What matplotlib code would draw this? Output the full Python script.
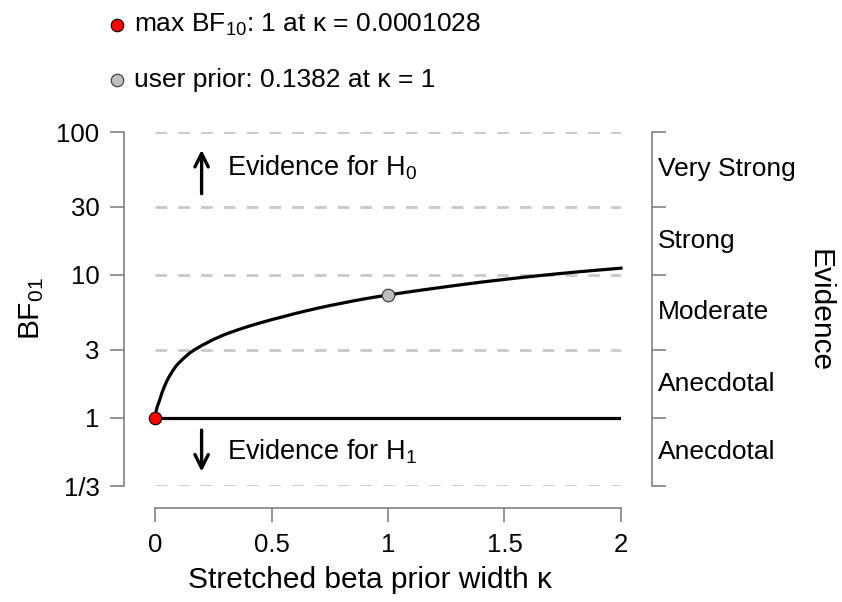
import matplotlib.pyplot as plt
from matplotlib.lines import Line2D

plt.rcParams['font.family'] = ['Liberation Sans', 'DejaVu Sans']
plt.rcParams['mathtext.default'] = 'regular'

# BF01 robustness curve
kappa = [0, 0.0025, 0.005, 0.01, 0.02, 0.03, 0.04, 0.05, 0.06, 0.075, 0.09, 0.1,
         0.125, 0.15, 0.175, 0.2, 0.25, 0.3, 0.35, 0.4, 0.45, 0.5, 0.55, 0.6,
         0.65, 0.7, 0.75, 0.8, 0.85, 0.9, 0.95, 1.0, 1.1, 1.2, 1.3, 1.4, 1.5,
         1.6, 1.7, 1.8, 1.9, 2.0]
bf01 = [1.0, 1.08, 1.12, 1.2, 1.33, 1.5, 1.65, 1.8, 1.93, 2.12, 2.3, 2.4,
        2.63, 2.85, 3.03, 3.2, 3.53, 3.83, 4.1, 4.36, 4.61, 4.86, 5.1, 5.36,
        5.61, 5.86, 6.1, 6.33, 6.57, 6.8, 7.02, 7.236, 7.65, 8.06, 8.48, 8.9, 9.3,
        9.7, 10.08, 10.45, 10.8, 11.15]

max_kappa, max_bf01 = 0.0001028, 1.0
user_kappa, user_bf01 = 1.0, 1 / 0.1382

y_ticks = [1/3, 1, 3, 10, 30, 100]
y_labels = ['1/3', '1', '3', '10', '30', '100']
grid_levels = [1/3, 3, 10, 30, 100]
evidence_labels = ['Anecdotal', 'Anecdotal', 'Moderate', 'Strong', 'Very Strong']
x_ticks = [0, 0.5, 1, 1.5, 2]
x_labels = ['0', '0.5', '1', '1.5', '2']

fig = plt.figure(figsize=(8.42, 6.02), dpi=100)
ax = fig.add_axes([155/842, 116/602, 466/842, 354/602])

ax.set_yscale('log')
ax.set_xlim(0, 2)
ax.set_ylim(1/3, 100)

# dashed reference lines
for lv in grid_levels:
    ax.plot([0, 2], [lv, lv], color='#c8c8c8', lw=2, dashes=(4.2, 4.0), zorder=1,
            solid_capstyle='butt', dash_capstyle='butt')

ax.plot([0, 2], [1, 1], color='black', lw=2.3, zorder=2)
ax.plot(kappa, bf01, color='black', lw=2.3, zorder=3, clip_on=False,
        solid_joinstyle='round')

ax.plot([max_kappa], [max_bf01], 'o', ms=9, mfc='#ff0000', mec='black', mew=0.8,
        zorder=5, clip_on=False)
ax.plot([user_kappa], [user_bf01], 'o', ms=9, mfc='#bebebe', mec='#333333', mew=0.8,
        zorder=5, clip_on=False)

# axes styling
spine_col = '#777777'
for s in ['left', 'right', 'bottom']:
    ax.spines[s].set_color(spine_col)
    ax.spines[s].set_linewidth(1.1)
ax.spines['top'].set_visible(False)
ax.spines['left'].set_position(('outward', 22))
ax.spines['right'].set_position(('outward', 22))
ax.spines['bottom'].set_position(('outward', 16))

ax.set_yticks(y_ticks)
ax.set_yticklabels(y_labels)
ax.minorticks_off()
ax.tick_params(axis='y', which='both', left=True, right=True, labelleft=True,
               labelright=False, direction='out', length=10, width=1.1,
               color=spine_col, labelsize=18.5, pad=8)
ax.set_xticks(x_ticks)
ax.set_xticklabels(x_labels)
ax.tick_params(axis='x', direction='out', length=10, width=1.1, color=spine_col,
               labelsize=18.5, pad=8)

# evidence category labels on the right
for lo, hi, lab in zip(y_ticks[:-1], y_ticks[1:], evidence_labels):
    ax.text(1.0 + 37/466, (lo * hi) ** 0.5, lab, transform=ax.get_yaxis_transform(),
            ha='left', va='center', fontsize=19)

# evidence arrows
ax.annotate('', xy=(0.2, 75), xytext=(0.2, 37),
            arrowprops=dict(arrowstyle='->', lw=2.4, color='black', mutation_scale=24,
                            shrinkA=0, shrinkB=0))
ax.text(0.31, 56, 'Evidence for H$_0$', fontsize=19.5, va='center', ha='left')
ax.annotate('', xy=(0.2, 0.42), xytext=(0.2, 0.82),
            arrowprops=dict(arrowstyle='->', lw=2.4, color='black', mutation_scale=24,
                            shrinkA=0, shrinkB=0))
ax.text(0.31, 0.58, 'Evidence for H$_1$', fontsize=19.5, va='center', ha='left')

# axis titles
fig.text(370/842, 1 - 580/602, 'Stretched beta prior width κ', ha='center',
         va='center', fontsize=21.5)
fig.text(32/842, 1 - 309/602, 'BF$_{01}$', rotation=90, ha='center', va='center',
         fontsize=21.5)
fig.text(820/842, 1 - 311/602, 'Evidence', rotation=-90, ha='center', va='center',
         fontsize=21.5)

# legend on top
fig.add_artist(Line2D([117/842], [1 - 25/602], marker='o', ms=9, mfc='#ff0000',
                      mec='black', mew=0.8, ls='none', transform=fig.transFigure))
fig.text(134/842, 1 - 25/602, 'max BF$_{10}$: 1 at κ = 0.0001028', ha='left',
         va='center', fontsize=19)
fig.add_artist(Line2D([117/842], [1 - 80/602], marker='o', ms=9, mfc='#bebebe',
                      mec='#333333', mew=0.8, ls='none', transform=fig.transFigure))
fig.text(134/842, 1 - 80/602, 'user prior: 0.1382 at κ = 1', ha='left',
         va='center', fontsize=19)

fig.savefig('out.png', dpi=100)
